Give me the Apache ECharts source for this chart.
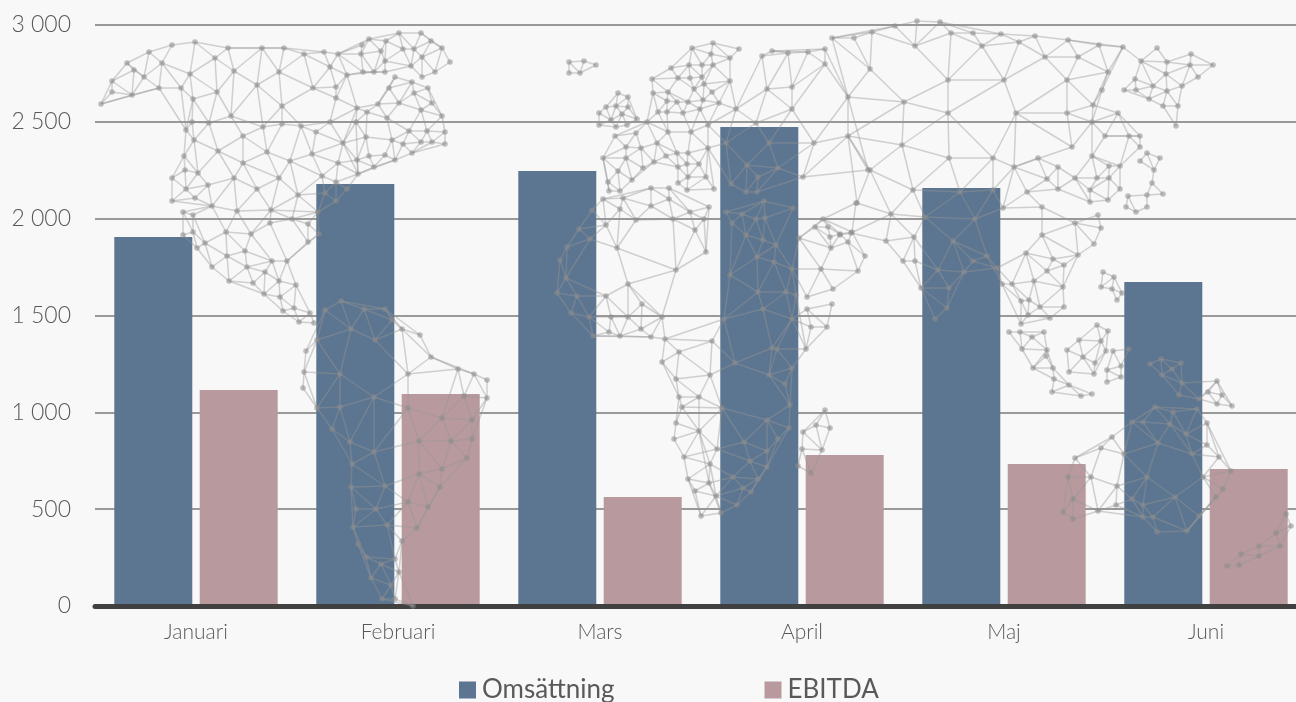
<!DOCTYPE html>
<html>
<head>
<meta charset="utf-8">
<title>Omsättning och EBITDA</title>
<script src="https://cdn.jsdelivr.net/npm/echarts@6/dist/echarts.min.js"></script>
<style>
  html, body { margin: 0; padding: 0; background: #f8f8f8; overflow: hidden; }
  #chart { width: 1296px; height: 702px; }
</style>
</head>
<body>
<div id="chart"></div>
<script>
const months = ['Januari', 'Februari', 'Mars', 'April', 'Maj', 'Juni']
const omsattning = [1905, 2179, 2246, 2473, 2158, 1673]
const ebitda = [1115, 1095, 563, 780, 733, 707]

// background world map, page pixels: [max edge length, x, y, x, y, ...]
const mapNorthAmerica = [62, 101,104, 112,92, 112,81, 132,95, 134,70, 127,63, 144,77, 149,52, 162,63, 159,88, 172,45, 195,42, 190,74, 181,88, 193,99, 215,58, 228,48, 234,71, 217,92, 262,48, 284,48, 257,85, 279,72, 304,54, 324,52, 338,54, 330,67, 313,88, 282,106, 231,116, 209,123, 192,122, 186,130, 194,140, 243,136, 263,127, 282,124, 301,126, 330,122, 336,98, 336,87, 347,75, 357,108, 356,122, 316,132, 343,143, 218,151, 267,152, 312,154, 243,163, 290,161, 338,163, 184,156, 185,170, 198,173, 172,178, 186,189, 208,185, 234,178, 279,178, 322,176, 358,174, 257,189, 195,198, 172,201, 212,206, 237,211, 271,210, 298,195, 336,182, 325,193, 347,189, 336,201, 318,212]
const mapMexico = [42, 212,206, 237,211, 271,210, 298,195, 318,212, 319,234, 308,242, 308,224, 292,219, 270,223, 183,212, 193,215, 183,235, 193,232, 197,248, 205,243, 226,232, 251,234, 245,251, 227,256, 212,267, 247,267, 229,281, 253,283, 265,272, 272,261, 287,261, 279,281, 296,285, 264,294, 280,297, 283,311, 294,308, 299,322, 310,313, 314,323]
const mapArctic = [36, 338,54, 347,75, 362,45, 369,39, 386,41, 399,33, 421,33, 431,41, 442,48, 450,62, 381,51, 403,49, 414,49, 422,57, 385,61, 361,54, 363,72, 374,72, 385,72, 411,66, 435,72, 422,77]
const mapQuebec = [45, 357,108, 356,122, 343,143, 338,163, 358,174, 395,77, 412,82, 389,88, 428,88, 414,93, 378,104, 399,103, 432,103, 367,112, 387,118, 421,110, 442,116, 366,137, 392,140, 409,131, 427,131, 445,132, 403,144, 421,142, 432,142, 445,144, 357,160, 369,156, 385,155, 395,160, 412,153, 374,167]
const mapSouthAmerica = [58, 325,310, 341,301, 364,309, 385,309, 392,320, 402,329, 420,335, 351,329, 375,340, 317,340, 306,351, 304,372, 303,388, 340,374, 408,374, 431,357, 458,369, 474,374, 487,380, 487,398, 464,396, 374,397, 317,408, 340,407, 408,408, 442,418, 472,420, 332,429, 350,442, 374,452, 419,441, 451,441, 472,439, 467,458, 442,469, 419,474, 352,464, 385,486, 351,487, 440,487, 408,502, 428,507, 376,509, 356,509, 387,525, 417,528, 353,527, 402,541, 358,544, 395,559, 366,557, 381,564, 399,572, 371,578, 391,585, 382,599, 395,599, 413,606]
const mapIceland = [20, 569,62, 584,61, 596,65, 569,73, 580,73]
const mapBritain = [24, 618,93, 628,97, 616,106, 628,107, 606,107, 599,113, 611,120, 622,114, 637,119, 599,125, 616,127, 627,125]
const mapEurope = [42, 692,48, 713,43, 739,49, 711,54, 730,58, 671,68, 689,65, 702,65, 713,65, 652,79, 678,78, 690,78, 702,77, 704,84, 730,81, 653,93, 668,92, 694,89, 712,92, 677,102, 688,102, 703,100, 719,103, 667,101, 658,112, 667,112, 683,113, 700,109, 736,109, 647,122, 668,132, 691,132, 708,125, 636,133, 615,136, 657,143, 641,148, 626,147, 708,148, 688,153, 677,153, 666,156, 603,158, 626,158, 654,162, 643,168, 618,171, 678,167, 687,164, 699,164, 632,180, 608,182, 688,177, 706,177, 678,183, 687,190, 714,189, 609,191, 620,191]
const mapRussiaWest = [78, 736,109, 762,56, 772,51, 788,53, 808,52, 825,49, 825,64, 767,89, 792,87, 848,97, 792,109, 756,123, 726,143, 769,143, 814,143, 848,136, 747,165, 778,168, 803,177, 868,170, 731,184, 746,192, 758,177, 757,192, 708,148, 708,125]
const mapAsia = [76, 832,38, 854,38, 872,32, 895,26, 917,21, 940,22, 951,33, 973,33, 1001,34, 1019,42, 1035,36, 1068,40, 1099,45, 1123,47, 915,46, 982,46, 870,69, 948,80, 1004,80, 1045,57, 1078,57, 1108,72, 1067,80, 848,97, 904,102, 948,113, 1016,113, 1067,113, 1102,90, 1093,105, 1092,122, 848,136, 902,145, 949,158, 1072,147, 870,170, 993,158, 1014,167, 913,190, 960,192, 993,190, 857,203, 891,214, 925,217, 975,219, 1003,208]
const mapFarEast = [34, 1123,47, 1157,48, 1191,54, 1213,65, 1141,61, 1167,62, 1190,65, 1135,79, 1166,74, 1198,77, 1124,90, 1136,90, 1153,86, 1182,86, 1167,91, 1149,99, 1163,106, 1178,106, 1176,126]
const mapChinaCoast = [40, 1092,122, 1118,113, 1093,105, 1105,136, 1129,136, 1140,136, 1140,147, 1092,156, 1109,166, 1120,166, 1109,178, 1120,189, 1108,200, 1097,178, 1075,178, 1058,167, 1038,158, 1047,179, 1058,189, 1027,192, 1014,167, 1090,190, 1090,202]
const mapIndochina = [46, 1003,208, 1042,207, 1027,192, 1075,223, 1098,215, 1101,228, 1094,244, 1078,255, 1064,265, 1053,259, 1042,235, 1026,253, 1047,271, 1002,284, 1012,284, 1034,281, 1063,287, 1064,307, 1050,318, 1040,307, 1021,301, 1029,300, 1028,315, 1021,324, 997,268, 987,256]
const mapIndia = [46, 851,233, 840,235, 886,241, 914,237, 891,214, 925,217, 903,261, 915,261, 953,241, 975,219, 973,261, 987,256, 997,268, 938,270, 964,272, 921,288, 949,288, 947,308, 935,319, 960,192]
const mapJapan = [20, 1147,153, 1160,158, 1140,161, 1154,170, 1152,183, 1163,194, 1147,195, 1128,196, 1126,207, 1136,212, 1147,207]
const mapTaiwan = [20, 1103,272, 1114,277, 1101,287, 1112,289, 1117,300, 1122,293]
const mapNorthAfrica = [68, 603,199, 623,198, 651,188, 669,188, 669,199, 651,206, 620,209, 592,210, 606,225, 636,220, 673,219, 690,212, 709,207, 704,219, 695,230, 579,229, 590,239, 617,248, 567,247, 560,260, 706,252, 676,270, 566,278, 628,284, 557,293, 577,296, 606,296, 642,304, 571,313, 589,317, 611,317, 628,317, 662,317, 593,336, 609,332, 620,336, 641,329, 651,337, 665,339, 712,341, 724,319]
const mapEastAfrica = [56, 726,212, 742,214, 756,219, 765,218, 793,208, 764,201, 732,223, 746,235, 763,240, 776,245, 757,257, 774,262, 792,269, 730,275, 758,292, 786,292, 796,295, 763,309, 792,319, 724,319, 712,341, 777,349, 772,348, 806,349, 735,363, 769,375, 792,368, 785,384, 722,408, 710,375, 699,397, 767,420, 790,405, 789,428, 778,439, 744,442, 767,451, 750,461, 767,467, 733,477, 758,479, 743,488, 751,492, 737,505, 721,513, 716,496, 717,449, 710,464, 709,483, 699,431]
const mapSouthAfrica = [42, 679,352, 662,362, 676,379, 710,375, 679,397, 699,397, 682,407, 722,408, 676,423, 699,431, 674,439, 717,449, 684,457, 710,464, 688,479, 709,483, 695,491, 716,496, 701,516, 721,513, 665,339, 712,341]
const mapArabia = [44, 799,238, 815,227, 828,227, 840,234, 852,232, 823,219, 856,203, 830,237, 831,248, 848,242, 865,256, 858,271, 821,269, 833,289, 807,297, 792,269]
const mapHorn = [32, 807,309, 832,304, 811,327, 827,327, 792,319, 806,349]
const mapMadagascar = [34, 825,410, 803,432, 816,425, 830,428, 802,449, 822,450, 798,466, 811,473]
const mapSumatra = [30, 1009,332, 1020,332, 1032,337, 1044,332, 1022,349, 1047,350, 1046,356, 1033,368, 1053,368, 1054,379, 1069,385, 1052,392, 1081,396, 1092,394]
const mapBorneo = [36, 1097,325, 1108,331, 1079,340, 1101,341, 1067,350, 1106,351, 1083,357, 1095,363, 1069,372, 1094,374]
const mapSulawesi = [24, 1113,351, 1129,349, 1121,366, 1107,370, 1121,377, 1107,382]
const mapNewGuinea = [38, 1150,364, 1161,359, 1172,369, 1181,363, 1162,375, 1182,383, 1217,381, 1179,395, 1199,399, 1208,392, 1222,395, 1217,404, 1232,406]
const mapAustralia = [62, 1155,407, 1173,412, 1197,409, 1132,422, 1143,422, 1170,424, 1207,423, 1186,434, 1158,443, 1207,445, 1124,454, 1192,454, 1112,437, 1101,448, 1075,458, 1219,457, 1231,471, 1068,477, 1091,477, 1117,486, 1147,477, 1203,477, 1223,489, 1216,497, 1073,499, 1132,499, 1175,497, 1143,505, 1116,505, 1098,511, 1199,516, 1063,512, 1073,519, 1143,517, 1153,517, 1157,532, 1187,531]
const mapNewZealand = [28, 1286,514, 1291,526, 1276,533, 1280,546, 1259,546, 1259,556, 1241,554, 1239,565, 1227,566]

const mapParts = [mapNorthAmerica, mapMexico, mapArctic, mapQuebec, mapSouthAmerica, mapIceland, mapBritain, mapEurope, mapRussiaWest, mapAsia, mapFarEast, mapChinaCoast, mapIndochina, mapIndia, mapJapan, mapTaiwan, mapNorthAfrica, mapEastAfrica, mapSouthAfrica, mapArabia, mapHorn, mapMadagascar, mapSumatra, mapBorneo, mapSulawesi, mapNewGuinea, mapAustralia, mapNewZealand]
const maxDegree = 6

function crosses(a, b, c, d) {
  const side = (p, q, r) => (q[0] - p[0]) * (r[1] - p[1]) - (q[1] - p[1]) * (r[0] - p[0])
  if (a === c || a === d || b === c || b === d) return false
  return side(a, b, c) * side(a, b, d) < 0 && side(c, d, a) * side(c, d, b) < 0
}

// triangulate one land part: shortest edges first, skipping anything that would cross
function partEdges(part) {
  const maxLen = part[0]
  const pts = []
  for (let i = 1; i < part.length; i += 2) pts.push([part[i], part[i + 1]])
  const pairs = []
  pts.forEach((a, i) => {
    pts.slice(i + 1).forEach(b => {
      const len = Math.hypot(a[0] - b[0], a[1] - b[1])
      if (len <= maxLen) pairs.push({ a, b, len })
    })
  })
  pairs.sort((p, q) => p.len - q.len)
  const edges = []
  const degree = new Map()
  pairs.forEach(p => {
    if ((degree.get(p.a) || 0) >= maxDegree || (degree.get(p.b) || 0) >= maxDegree) return
    if (edges.some(e => crosses(p.a, p.b, e.a, e.b))) return
    edges.push(p)
    degree.set(p.a, (degree.get(p.a) || 0) + 1)
    degree.set(p.b, (degree.get(p.b) || 0) + 1)
  })
  return { pts, edges }
}

function mapGraphic() {
  const elements = []
  const seen = {}
  mapParts.forEach(part => {
    const { pts, edges } = partEdges(part)
    edges.forEach(e => {
      const key = [e.a, e.b].map(String).sort().join('|')
      if (seen[key]) return
      seen[key] = true
      elements.push({
        type: 'line',
        silent: true,
        z: 100,
        shape: { x1: e.a[0], y1: e.a[1], x2: e.b[0], y2: e.b[1] },
        style: { stroke: 'rgba(150,150,150,0.42)', lineWidth: 1.5 }
      })
    })
    pts.forEach(p => {
      if (seen[String(p)]) return
      seen[String(p)] = true
      elements.push({
        type: 'circle',
        silent: true,
        z: 101,
        shape: { cx: p[0], cy: p[1], r: 2.8 },
        style: { fill: 'rgba(140,140,140,0.55)' }
      })
    })
  })
  return elements
}

const labelFont = 'Lato, "Noto Sans", sans-serif'
const chart = echarts.init(document.getElementById('chart'))
chart.setOption({
  animation: false,
  backgroundColor: '#f8f8f8',
  color: ['#5c7590', '#b89a9e'],
  grid: { left: 95, top: 25, width: 1212, height: 581, outerBoundsMode: 'none' },
  legend: {
    left: 459,
    top: 677,
    padding: 0,
    itemWidth: 17,
    itemHeight: 17,
    itemGap: 150,
    icon: 'rect',
    textStyle: { fontFamily: labelFont, fontSize: 26, color: '#595959', padding: [0, 0, 0, 1] },
    data: ['Omsättning', 'EBITDA']
  },
  xAxis: {
    type: 'category',
    data: months,
    z: 5,
    axisLine: { lineStyle: { color: '#404040', width: 5 } },
    axisTick: { show: false },
    axisLabel: { fontFamily: labelFont, fontSize: 21, fontWeight: 300, color: '#595959', margin: 16 }
  },
  yAxis: {
    type: 'value',
    min: 0,
    max: 3000,
    interval: 500,
    axisLine: { show: false },
    axisTick: { show: false },
    splitLine: { lineStyle: { color: '#999999', width: 2 } },
    axisLabel: {
      fontFamily: labelFont,
      fontSize: 23,
      fontWeight: 300,
      color: '#595959',
      margin: 24,
      formatter: v => String(v).replace(/\B(?=(\d{3})+$)/g, ' ')
    }
  },
  series: [
    { name: 'Omsättning', type: 'bar', data: omsattning, barWidth: 78, barGap: '9.5%' },
    { name: 'EBITDA', type: 'bar', data: ebitda, barWidth: 78, barGap: '9.5%' }
  ],
  graphic: mapGraphic()
})
</script>
</body>
</html>
